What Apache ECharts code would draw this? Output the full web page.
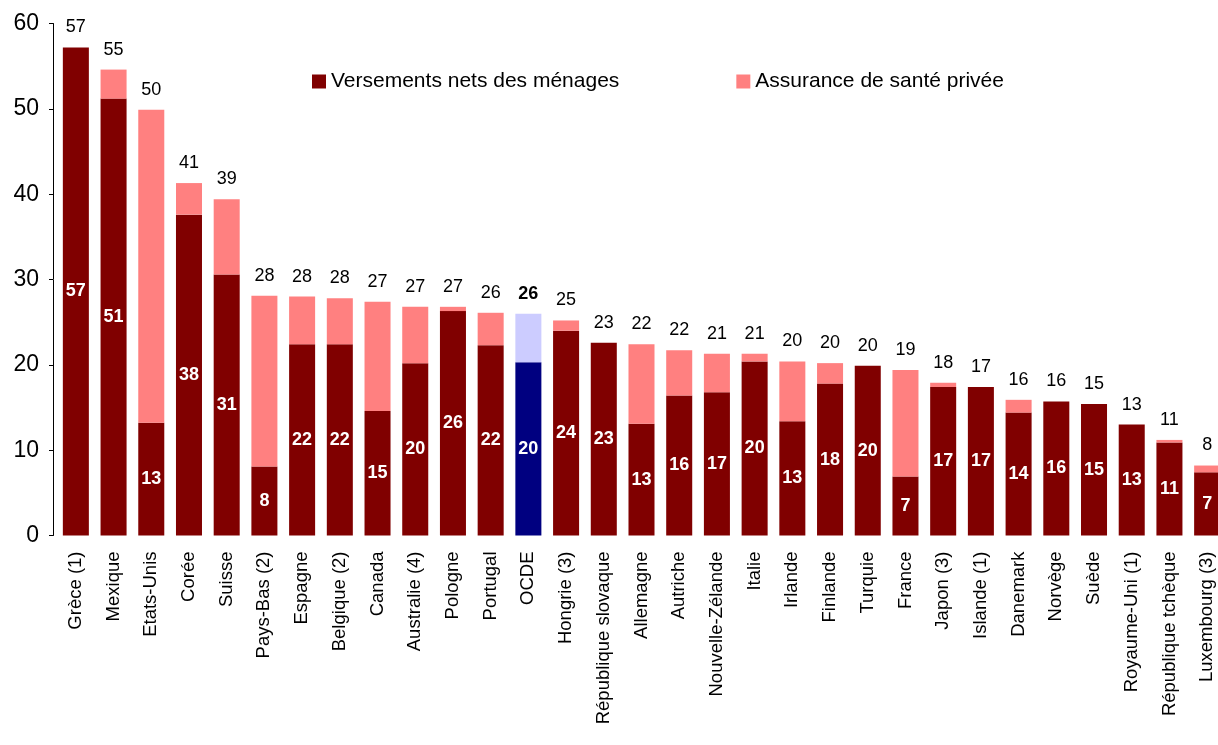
<!DOCTYPE html>
<html>
<head>
<meta charset="utf-8">
<script src="https://cdn.jsdelivr.net/npm/echarts@6/dist/echarts.min.js"></script>
<style>html,body{margin:0;padding:0;background:#fff;overflow:hidden}#c{width:1226px;height:745px}</style>
</head>
<body>
<div id="c"></div>
<script>
const categories = ["Grèce (1)","Mexique","Etats-Unis","Corée","Suisse","Pays-Bas (2)","Espagne","Belgique (2)","Canada","Australie (4)","Pologne","Portugal","OCDE","Hongrie (3)","République slovaque","Allemagne","Autriche","Nouvelle-Zélande","Italie","Irlande","Finlande","Turquie","France","Japon (3)","Islande (1)","Danemark","Norvège","Suède","Royaume-Uni (1)","République tchèque","Luxembourg (3)"];
const households = [57.2,51.2,13.2,37.6,30.6,8.1,22.4,22.4,14.6,20.2,26.3,22.3,20.3,24.0,22.6,13.1,16.4,16.8,20.4,13.4,17.8,19.9,6.9,17.4,17.4,14.4,15.7,15.4,13.0,10.9,7.4];
const privateIns = [0,3.4,36.7,3.7,8.8,20.0,5.6,5.4,12.8,6.6,0.5,3.8,5.7,1.2,0,9.3,5.3,4.5,0.9,7.0,2.4,0,12.5,0.5,0,1.5,0,0,0,0.3,0.8];
const seriesNames = ["Versements nets des ménages","Assurance de santé privée"];
const highlight = "OCDE";

const FONT = "'Liberation Sans', Arial, sans-serif";
const chart = echarts.init(document.getElementById('c'), null, {renderer:'canvas'});

const darkData = households.map((v,i)=>categories[i]===highlight ? {value:v,itemStyle:{color:'#000080'}} : v);
const lightData = privateIns.map((v,i)=>categories[i]===highlight ? {value:v,itemStyle:{color:'#CCCCFF'},label:{fontWeight:'bold'}} : v);

chart.setOption({
  animation:false,
  textStyle:{fontFamily:FONT},
  legend:{
    left:307, top:66, itemWidth:14, itemHeight:14, itemGap:117,
    icon:'rect',
    textStyle:{fontFamily:FONT,fontSize:21,color:'#000'},
    data:seriesNames
  },
  grid:{left:57, right:0, top:23.5, bottom:209.5, containLabel:false},
  xAxis:{
    type:'category', data:categories,
    axisLine:{show:false}, axisTick:{show:false},
    axisLabel:{rotate:90, margin:16, fontFamily:FONT, fontSize:18.5, color:'#000', interval:0}
  },
  yAxis:{
    type:'value', min:0, max:60, interval:10, offset:4,
    axisLine:{show:true, lineStyle:{color:'#000',width:1}},
    axisTick:{show:true, length:4, lineStyle:{color:'#000'}},
    splitLine:{show:false},
    axisLabel:{fontFamily:FONT, fontSize:23, color:'#000', margin:14}
  },
  series:[
    {
      name:seriesNames[0], type:'bar', stack:'t', data:darkData,
      barCategoryGap:'31%',
      itemStyle:{color:'#800000'},
      label:{show:true, position:'inside', color:'#fff', fontWeight:'bold', fontSize:18, fontFamily:FONT,
        formatter:p=>Math.round(households[p.dataIndex])}
    },
    {
      name:seriesNames[1], type:'bar', stack:'t', data:lightData,
      barCategoryGap:'31%',
      itemStyle:{color:'#FF8080'},
      label:{show:true, position:'top', distance:11, color:'#000', fontSize:18, fontFamily:FONT,
        formatter:p=>Math.round(households[p.dataIndex]+privateIns[p.dataIndex])}
    }
  ]
});
</script>
</body>
</html>
